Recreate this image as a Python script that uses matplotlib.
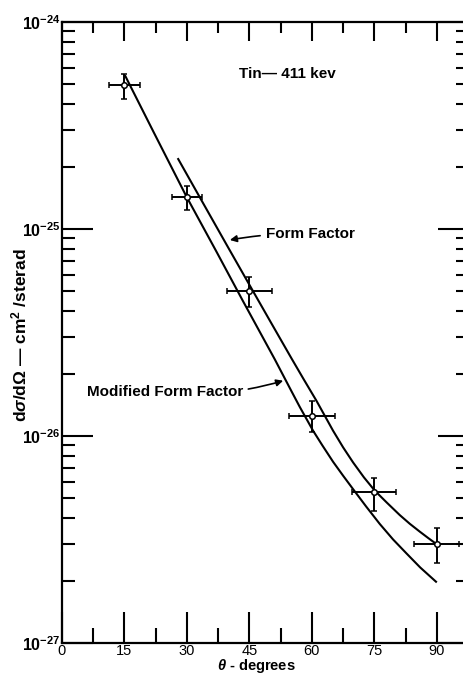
import numpy as np
import matplotlib.pyplot as plt
from matplotlib.ticker import FixedLocator, LogLocator, NullFormatter

plt.rcParams['font.family'] = ['Liberation Sans', 'DejaVu Sans']
plt.rcParams['mathtext.fontset'] = 'custom'
plt.rcParams['mathtext.rm'] = 'Liberation Sans:bold'
plt.rcParams['mathtext.it'] = 'Liberation Sans:italic:bold'
plt.rcParams['mathtext.bf'] = 'Liberation Sans:bold'

# measured points (Tin, 411 kev)
theta = [15, 30, 45, 60, 75, 90]
theta_err = [3.75, 3.6, 5.5, 5.5, 5.3, 5.4]
sigma = [4.94e-25, 1.43e-25, 5.04e-26, 1.25e-26, 5.35e-27, 3.0e-27]
sigma_hi = [5.6e-25, 1.61e-25, 5.89e-26, 1.47e-26, 6.3e-27, 3.58e-27]
sigma_lo = [4.25e-25, 1.24e-25, 4.22e-26, 1.04e-26, 4.35e-27, 2.43e-27]

# theory curves (log10 of cross section)
ff_theta = [27.9, 33.0, 40.0, 45.8, 50.0, 55.1, 58.0, 61.1, 65.1, 67.5, 69.9, 72.5, 75.1,
            78.0, 81.1, 83.5, 85.9, 88.0, 89.9]
ff_logsig = [-24.662, -24.844, -25.093, -25.298, -25.446, -25.625, -25.725, -25.830, -25.975,
             -26.055, -26.128, -26.200, -26.264, -26.322, -26.382, -26.424, -26.462, -26.494,
             -26.522]
mff_theta = [15.2, 22.0, 29.9, 37.1, 43.5, 51.1, 55.0, 57.1, 60.3, 62.5, 65.1, 67.5, 69.9,
             73.0, 76.3, 79.5, 82.7, 86.0, 89.8]
mff_logsig = [-24.261, -24.532, -24.844, -25.110, -25.350, -25.630, -25.780, -25.860, -25.975,
              -26.045, -26.125, -26.192, -26.257, -26.340, -26.425, -26.500, -26.567, -26.635,
              -26.704]

xticks = [0, 15, 30, 45, 60, 75, 90]
xminor = [7.5, 22.5, 37.5, 52.5, 67.5, 82.5]
yticks = [1e-27, 1e-26, 1e-25, 1e-24]
ytick_labels = ['$10^{-27}$', '$10^{-26}$', '$10^{-25}$', '$10^{-24}$']

fig = plt.figure(figsize=(4.64, 6.74), dpi=100)
ax = fig.add_axes([62 / 464, 31 / 674, 404 / 464, 621 / 674])

ax.plot(mff_theta, 10.0 ** np.array(mff_logsig), color='k', lw=1.5)
ax.plot(ff_theta, 10.0 ** np.array(ff_logsig), color='k', lw=1.5)
yerr = [np.array(sigma) - np.array(sigma_lo), np.array(sigma_hi) - np.array(sigma)]
ax.errorbar(theta, sigma, xerr=theta_err, yerr=yerr, fmt='o', ms=4, mfc='white', mec='k',
            mew=1.1, ecolor='k', elinewidth=1.4, capsize=2.5, capthick=1.4, zorder=3)

ax.set_yscale('log')
ax.set_xlim(0, 97)
ax.set_ylim(1e-27, 1e-24)

ax.xaxis.set_major_locator(FixedLocator(xticks))
ax.xaxis.set_minor_locator(FixedLocator(xminor))
ax.set_xticklabels([str(t) for t in xticks])
ax.set_yticks(yticks)
ax.set_yticklabels(ytick_labels)
ax.yaxis.set_minor_locator(LogLocator(base=10, subs=np.arange(2, 10)))
ax.yaxis.set_minor_formatter(NullFormatter())

ax.tick_params(axis='x', which='major', direction='in', length=22, width=1.5, pad=1, labelsize=10.5)
ax.tick_params(axis='x', which='minor', direction='in', length=11, width=1.5)
ax.tick_params(axis='y', which='major', direction='in', length=22, width=1.5, pad=1, labelsize=11.5)
ax.tick_params(axis='y', which='minor', direction='in', length=9, width=1.5)
for side in ['top', 'right']:
    ax.spines[side].set_visible(False)
for side in ['left', 'bottom']:
    ax.spines[side].set_linewidth(1.6)

top = ax.secondary_xaxis('top')
top.xaxis.set_major_locator(FixedLocator(xticks))
top.xaxis.set_minor_locator(FixedLocator(xminor))
top.tick_params(which='major', direction='in', length=14, width=1.5, labeltop=False)
top.tick_params(which='minor', direction='in', length=8, width=1.5)
top.spines['top'].set_linewidth(1.6)

right = ax.secondary_yaxis('right')
right.set_yticks(yticks)
right.yaxis.set_minor_locator(LogLocator(base=10, subs=np.arange(2, 10)))
right.yaxis.set_minor_formatter(NullFormatter())
right.tick_params(which='major', direction='in', length=20, width=1.5, labelright=False)
right.tick_params(which='minor', direction='in', length=7, width=1.5)

ax.set_xlabel(r'$\theta$ - degrees', fontsize=10.5, fontweight='bold')
ax.xaxis.set_label_coords(0.48, -0.023)
ax.set_ylabel(r'd$\sigma$/d$\Omega$ — cm$^2$ /sterad', fontsize=12.5, fontweight='bold')
ax.yaxis.set_label_coords(-0.08, 0.495)

ax.text(42.5, 5.6e-25, 'Tin— 411 kev', fontsize=11, fontweight='bold', ha='left', va='center')
ax.annotate('Form Factor', xy=(40.3, 8.85e-26), xytext=(48.9, 9.5e-26), fontsize=11,
            fontweight='bold', ha='left', va='center',
            arrowprops=dict(arrowstyle='-|>', color='k', lw=1.2, mutation_scale=10,
                            shrinkA=2, shrinkB=0, connectionstyle='arc3,rad=0.05'))
ax.annotate('Modified Form Factor', xy=(53.1, 1.85e-26), xytext=(43.4, 1.63e-26), fontsize=11,
            fontweight='bold', ha='right', va='center',
            arrowprops=dict(arrowstyle='-|>', color='k', lw=1.2, mutation_scale=10,
                            shrinkA=2, shrinkB=0, connectionstyle='arc3,rad=0.1'))

plt.savefig('out.png', dpi=100)
